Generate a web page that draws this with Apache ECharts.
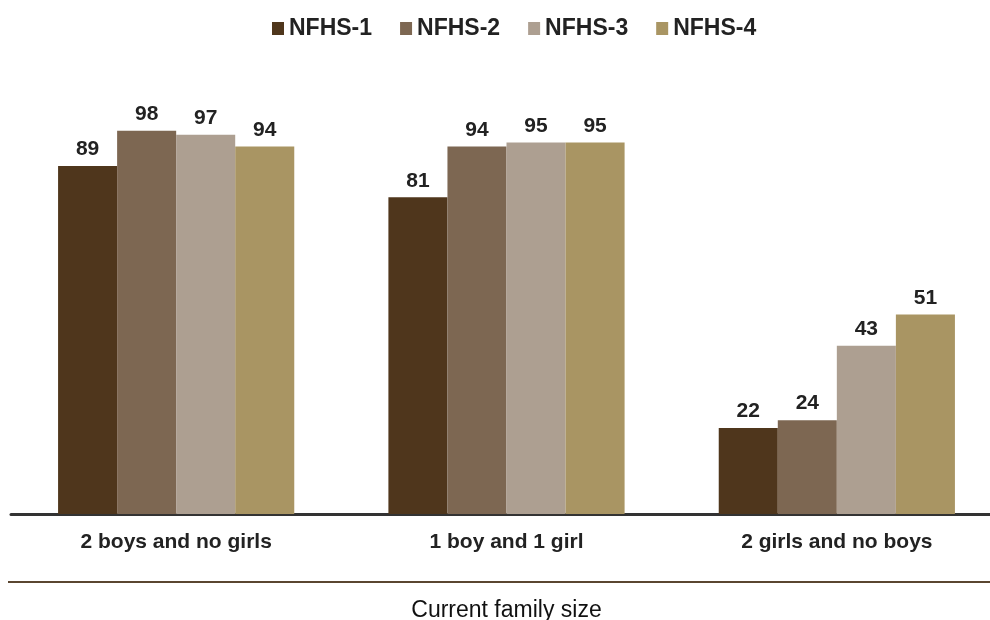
<!DOCTYPE html>
<html><head><meta charset="utf-8">
<script src="https://cdn.jsdelivr.net/npm/echarts@6/dist/echarts.min.js"></script>
<style>html,body{margin:0;padding:0;background:#fff}#c{width:990px;height:620px}</style>
</head><body><div id="c"></div>
<script>
const categories = ['2 boys and no girls', '1 boy and 1 girl', '2 girls and no boys'];
const seriesNames = ['NFHS-1', 'NFHS-2', 'NFHS-3', 'NFHS-4'];
const nfhs1 = [89, 81, 22];
const nfhs2 = [98, 94, 24];
const nfhs3 = [97, 95, 43];
const nfhs4 = [94, 95, 51];
const colors = ['#4f361c', '#7d6752', '#ad9f91', '#a99563'];
const values = [nfhs1, nfhs2, nfhs3, nfhs4];

const chart = echarts.init(document.getElementById('c'));
const font = 'Liberation Sans, Arial, sans-serif';
chart.setOption({
  animation: false,
  color: colors,
  legend: {
    top: 12, left: 267,
    itemWidth: 12, itemHeight: 13, itemGap: 28,
    icon: 'rect',
    textStyle: { fontFamily: font, fontSize: 23, fontWeight: 'bold', color: '#222' },
    data: seriesNames
  },
  grid: { left: 11, top: 123, width: 991, height: 391, outerBoundsMode: 'none', containLabel: false },
  xAxis: {
    type: 'category', data: categories,
    axisLine: { lineStyle: { color: '#333', width: 3 } },
    axisTick: { show: false },
    axisLabel: { fontFamily: font, fontSize: 21, fontWeight: 'bold', color: '#222', margin: 18 },
    name: 'Current family size', nameLocation: 'middle', nameGap: 85,
    nameTextStyle: { fontFamily: font, fontSize: 23, color: '#111' }
  },
  yAxis: { type: 'value', min: 0, max: 100, show: false, splitLine: { show: false } },
  graphic: [{
    type: 'line', shape: { x1: 8, y1: 582, x2: 990, y2: 582 },
    style: { stroke: '#5a4630', lineWidth: 2 }
  }],
  series: values.map((v, i) => ({
    name: seriesNames[i], type: 'bar', data: v,
    barGap: '0%', barCategoryGap: '28.5%',
    itemStyle: { color: colors[i] },
    label: { show: true, position: 'top', distance: 6, fontFamily: font, fontSize: 21, fontWeight: 'bold', color: '#222' }
  }))
});
</script></body></html>
